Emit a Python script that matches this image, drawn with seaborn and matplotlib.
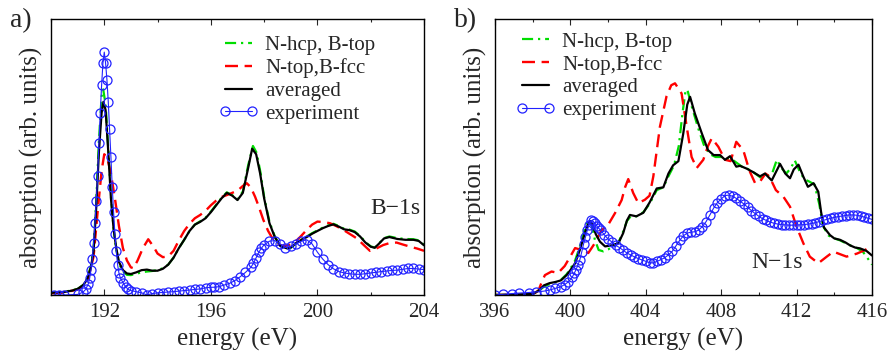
import numpy as np
import pandas as pd
import matplotlib
matplotlib.use("Agg")
import matplotlib.pyplot as plt
import seaborn as sns

# ---------------- panel a) B-1s ---------------- #
a_hcp_e = [190.0, 190.5, 191.0, 191.2, 191.35, 191.5, 191.6, 191.7, 191.8, 191.9, 191.96, 192.05,
           192.15, 192.25, 192.35, 192.45, 192.55, 192.7, 192.85, 193.0, 193.2, 193.4, 193.6, 193.8,
           194.0, 194.2, 194.4, 194.6, 194.8, 195.0, 195.2, 195.4, 195.6, 195.8, 196.0, 196.2, 196.4,
           196.6, 196.8, 197.0, 197.2, 197.4, 197.58, 197.72, 197.87, 198.0, 198.2, 198.4, 198.6,
           198.85, 199.0, 199.2, 199.4, 199.6, 199.8, 200.0, 200.2, 200.4, 200.6, 200.8, 201.0, 201.2,
           201.4, 201.6, 201.8, 202.0, 202.15, 202.3, 202.5, 202.7, 203.0, 203.3, 203.6, 203.8, 204.0]
a_hcp_y = [0.008, 0.011, 0.022, 0.036, 0.058, 0.105, 0.17, 0.34, 0.56, 0.72, 0.745, 0.69,
           0.53, 0.36, 0.24, 0.165, 0.115, 0.085, 0.073, 0.072, 0.077, 0.082, 0.085, 0.087,
           0.09, 0.097, 0.11, 0.136, 0.17, 0.2, 0.232, 0.255, 0.267, 0.28, 0.302, 0.327, 0.352,
           0.372, 0.362, 0.346, 0.375, 0.47, 0.54, 0.515, 0.44, 0.355, 0.265, 0.212, 0.178,
           0.168, 0.171, 0.187, 0.2, 0.212, 0.224, 0.234, 0.244, 0.252, 0.258, 0.25, 0.24, 0.237,
           0.23, 0.214, 0.192, 0.176, 0.172, 0.186, 0.206, 0.212, 0.206, 0.203, 0.202, 0.198, 0.182]

a_top_e = [190.0, 190.5, 191.0, 191.2, 191.4, 191.6, 191.75, 191.9, 192.0, 192.1, 192.25, 192.4,
           192.55, 192.7, 192.85, 193.0, 193.1, 193.25, 193.45, 193.65, 193.85, 194.0, 194.2, 194.4,
           194.6, 194.8, 195.0, 195.2, 195.4, 195.6, 195.8, 196.0, 196.2, 196.4, 196.6, 196.8, 197.0,
           197.2, 197.35, 197.5, 197.66, 197.8, 197.97, 198.15, 198.35, 198.55, 198.72, 198.9, 199.1,
           199.35, 199.6, 199.8, 200.0, 200.25, 200.47, 200.7, 200.97, 201.2, 201.48, 201.75, 201.97,
           202.2, 202.47, 202.7, 202.97, 203.2, 203.48, 203.75, 204.0]
a_top_y = [0.006, 0.009, 0.02, 0.032, 0.06, 0.14, 0.3, 0.45, 0.51, 0.5, 0.44, 0.35,
           0.25, 0.17, 0.125, 0.1, 0.097, 0.125, 0.17, 0.202, 0.175, 0.15, 0.137, 0.14,
           0.16, 0.198, 0.232, 0.258, 0.278, 0.29, 0.305, 0.325, 0.342, 0.355, 0.362, 0.37, 0.378,
           0.395, 0.405, 0.39, 0.356, 0.32, 0.272, 0.232, 0.199, 0.183, 0.177, 0.18, 0.187,
           0.21, 0.236, 0.255, 0.266, 0.264, 0.26, 0.25, 0.236, 0.222, 0.205, 0.18, 0.16,
           0.168, 0.181, 0.188, 0.19, 0.183, 0.175, 0.168, 0.16]

a_avg_e = [190.0, 190.5, 190.8, 191.0, 191.2, 191.35, 191.5, 191.6, 191.7, 191.8, 191.9, 191.97,
           192.05, 192.15, 192.25, 192.35, 192.45, 192.55, 192.7, 192.85, 193.0, 193.2, 193.4, 193.6,
           193.8, 194.0, 194.2, 194.4, 194.6, 194.8, 195.0, 195.2, 195.4, 195.6, 195.8, 196.0, 196.2,
           196.4, 196.6, 196.8, 197.0, 197.2, 197.4, 197.55, 197.7, 197.85, 198.0, 198.2, 198.4,
           198.6, 198.85, 199.0, 199.2, 199.4, 199.6, 199.8, 200.0, 200.2, 200.4, 200.6, 200.8, 201.0,
           201.2, 201.4, 201.6, 201.8, 202.0, 202.15, 202.3, 202.5, 202.7, 203.0, 203.3, 203.6, 203.8,
           204.0]
a_avg_y = [0.008, 0.011, 0.016, 0.022, 0.035, 0.055, 0.1, 0.16, 0.32, 0.52, 0.66, 0.7,
           0.67, 0.52, 0.35, 0.24, 0.17, 0.12, 0.09, 0.078, 0.076, 0.082, 0.09, 0.092,
           0.088, 0.088, 0.095, 0.11, 0.135, 0.17, 0.2, 0.232, 0.255, 0.265, 0.278, 0.3, 0.325,
           0.35, 0.37, 0.36, 0.344, 0.37, 0.46, 0.53, 0.51, 0.44, 0.35, 0.26, 0.21,
           0.178, 0.169, 0.172, 0.188, 0.2, 0.21, 0.222, 0.232, 0.242, 0.25, 0.256, 0.248, 0.238,
           0.235, 0.228, 0.212, 0.19, 0.175, 0.171, 0.185, 0.205, 0.21, 0.203, 0.2, 0.2, 0.196,
           0.18]

a_exp_e = [190.1, 190.3, 190.5, 191.0, 191.2, 191.3, 191.4, 191.45, 191.5, 191.55, 191.6, 191.65,
           191.7, 191.75, 191.8, 191.85, 191.9, 191.95, 192.0, 192.05, 192.1, 192.15, 192.2, 192.25,
           192.3, 192.35, 192.4, 192.45, 192.5, 192.55, 192.6, 192.7, 192.8, 192.9, 193.0, 193.2,
           193.4, 193.6, 193.8, 194.0, 194.2, 194.4, 194.6, 194.8, 195.0, 195.2, 195.4, 195.6, 195.8,
           196.0, 196.1, 196.3, 196.5, 196.7, 196.9, 197.1, 197.3, 197.5, 197.6, 197.7, 197.8, 197.9,
           198.0, 198.2, 198.4, 198.6, 198.8, 199.0, 199.2, 199.4, 199.6, 199.8, 200.0, 200.2, 200.4,
           200.6, 200.8, 201.0, 201.2, 201.4, 201.6, 201.8, 202.0, 202.2, 202.4, 202.6, 202.8, 203.0,
           203.2, 203.4, 203.6, 203.8, 204.0]
a_exp_y = [0.0, 0.0, 0.0, 0.002, 0.01, 0.02, 0.04, 0.06, 0.09, 0.13, 0.19, 0.26,
           0.34, 0.43, 0.55, 0.66, 0.76, 0.84, 0.88, 0.84, 0.78, 0.7, 0.6, 0.5,
           0.39, 0.3, 0.22, 0.16, 0.11, 0.08, 0.063, 0.045, 0.03, 0.02, 0.016, 0.012,
           0.008, 0.0, 0.005, 0.008, 0.009, 0.011, 0.012, 0.014, 0.016, 0.018, 0.02, 0.022, 0.026,
           0.028, 0.028, 0.03, 0.036, 0.042, 0.052, 0.066, 0.082, 0.1, 0.115, 0.135, 0.155, 0.17,
           0.182, 0.195, 0.197, 0.185, 0.172, 0.176, 0.185, 0.195, 0.2, 0.185, 0.155, 0.13, 0.11,
           0.095, 0.085, 0.08, 0.077, 0.075, 0.075, 0.077, 0.08, 0.082, 0.085, 0.087, 0.089, 0.09,
           0.093, 0.096, 0.096, 0.094, 0.092]

# ---------------- panel b) N-1s ---------------- #
b_hcp_e = [396.0, 397.0, 398.0, 398.3, 398.6, 398.9, 399.2, 399.5, 399.8, 400.0, 400.25, 400.5,
           400.77, 400.95, 401.1, 401.3, 401.5, 401.75, 402.0, 402.3, 402.55, 402.8, 403.0, 403.2,
           403.5, 403.87, 404.2, 404.58, 404.93, 405.2, 405.5, 405.75, 405.95, 406.1, 406.2, 406.45,
           406.8, 407.1, 407.4, 407.7, 408.0, 408.3, 408.6, 408.9, 409.2, 409.5, 409.8, 410.1, 410.4,
           410.7, 410.95, 411.2, 411.45, 411.7, 411.9, 412.15, 412.4, 412.7, 412.95, 413.2, 413.4,
           413.7, 414.0, 414.3, 414.6, 414.9, 415.2, 415.5, 415.8, 416.0]
b_hcp_y = [0.0, 0.001, 0.004, 0.014, 0.03, 0.04, 0.046, 0.055, 0.075, 0.095, 0.125, 0.175,
           0.24, 0.27, 0.262, 0.2, 0.163, 0.158, 0.165, 0.178, 0.19, 0.23, 0.268, 0.285,
           0.285, 0.3, 0.33, 0.38, 0.39, 0.43, 0.47, 0.54, 0.66, 0.735, 0.745, 0.68,
           0.6, 0.54, 0.51, 0.5, 0.5, 0.495, 0.49, 0.475, 0.46, 0.455, 0.44, 0.425, 0.43,
           0.44, 0.49, 0.46, 0.44, 0.46, 0.488, 0.45, 0.42, 0.41, 0.4, 0.33, 0.25,
           0.215, 0.205, 0.198, 0.188, 0.178, 0.17, 0.158, 0.13, 0.11]

b_top_e = [396.0, 397.5, 398.0, 398.3, 398.5, 398.65, 399.0, 399.35, 399.7, 400.0, 400.25, 400.6,
           400.95, 401.3, 401.66, 402.0, 402.37, 402.72, 402.9, 403.07, 403.33, 403.6, 403.95, 404.2,
           404.4, 404.75, 405.1, 405.35, 405.55, 405.9, 406.17, 406.43, 406.7, 407.05, 407.3, 407.5,
           407.85, 408.2, 408.5, 408.8, 409.17, 409.5, 409.8, 410.05, 410.35, 410.55, 410.9, 411.3,
           411.65, 412.0, 412.36, 412.7, 413.15, 413.6, 413.95, 414.3, 414.65, 415.2, 415.6, 416.0]
b_top_y = [0.0, 0.001, 0.003, 0.015, 0.05, 0.072, 0.085, 0.08, 0.105, 0.14, 0.17, 0.163,
           0.152, 0.188, 0.235, 0.254, 0.297, 0.344, 0.39, 0.42, 0.37, 0.333, 0.345, 0.36,
           0.43, 0.61, 0.72, 0.76, 0.767, 0.73, 0.61, 0.5, 0.46, 0.49, 0.54, 0.568,
           0.537, 0.49, 0.485, 0.555, 0.525, 0.45, 0.405, 0.41, 0.44, 0.43, 0.38, 0.356,
           0.32, 0.247, 0.187, 0.139, 0.115, 0.139, 0.157, 0.148, 0.139, 0.15, 0.162, 0.178]

b_avg_e = [396.0, 397.0, 398.0, 398.3, 398.6, 398.9, 399.2, 399.5, 399.8, 400.0, 400.25, 400.5,
           400.77, 400.95, 401.05, 401.2, 401.35, 401.57, 401.84, 402.2, 402.55, 402.8, 403.0, 403.16,
           403.5, 403.87, 404.2, 404.58, 404.93, 405.2, 405.45, 405.73, 405.99, 406.2, 406.35, 406.6,
           406.97, 407.3, 407.6, 407.94, 408.2, 408.47, 408.8, 409.0, 409.35, 409.7, 410.06, 410.32,
           410.68, 410.9, 411.12, 411.4, 411.65, 411.85, 412.1, 412.35, 412.6, 412.9, 413.15, 413.3,
           413.45, 413.77, 414.0, 414.3, 414.6, 414.83, 415.1, 415.36, 415.7, 416.0]
b_avg_y = [0.0, 0.001, 0.004, 0.015, 0.035, 0.043, 0.047, 0.053, 0.072, 0.09, 0.115, 0.163,
           0.224, 0.26, 0.268, 0.25, 0.22, 0.193, 0.176, 0.18, 0.188, 0.224, 0.27, 0.29,
           0.285, 0.298, 0.335, 0.386, 0.39, 0.44, 0.47, 0.485, 0.586, 0.69, 0.718, 0.658,
           0.586, 0.525, 0.507, 0.507, 0.49, 0.503, 0.465, 0.468, 0.458, 0.445, 0.43, 0.44,
           0.415, 0.445, 0.475, 0.44, 0.423, 0.455, 0.472, 0.43, 0.392, 0.405, 0.374, 0.3,
           0.245, 0.217, 0.205, 0.2, 0.19, 0.18, 0.172, 0.169, 0.16, 0.143]

b_exp_e = [396.0, 396.4, 396.9, 397.3, 397.8, 398.2, 398.6, 398.9, 399.2, 399.5, 399.7, 399.9,
           400.1, 400.2, 400.3, 400.4, 400.5, 400.6, 400.7, 400.8, 400.9, 401.0, 401.1, 401.2,
           401.3, 401.4, 401.5, 401.6, 401.8, 402.0, 402.2, 402.4, 402.6, 402.8, 403.0, 403.2,
           403.4, 403.6, 403.8, 404.0, 404.2, 404.4, 404.6, 404.8, 405.0, 405.2, 405.4, 405.6,
           405.8, 406.0, 406.2, 406.4, 406.6, 406.8, 407.0, 407.2, 407.4, 407.6, 407.8, 408.0,
           408.2, 408.4, 408.6, 408.8, 409.0, 409.2, 409.4, 409.6, 409.8, 410.0, 410.2, 410.4,
           410.6, 410.8, 411.0, 411.2, 411.4, 411.6, 411.8, 412.0, 412.2, 412.4, 412.6, 412.8,
           413.0, 413.2, 413.4, 413.6, 413.8, 414.0, 414.2, 414.4, 414.6, 414.8, 415.0, 415.2,
           415.4, 415.6, 415.8, 416.0]
b_exp_y = [0.0, 0.002, 0.005, 0.007, 0.009, 0.011, 0.014, 0.018, 0.024, 0.03, 0.038, 0.048,
           0.065, 0.078, 0.092, 0.108, 0.127, 0.155, 0.185, 0.21, 0.235, 0.255, 0.27, 0.268,
           0.26, 0.25, 0.242, 0.235, 0.218, 0.203, 0.192, 0.18, 0.172, 0.162, 0.152, 0.145,
           0.138, 0.132, 0.127, 0.122, 0.117, 0.116, 0.122, 0.128, 0.135, 0.145, 0.158, 0.178,
           0.198, 0.215, 0.224, 0.228, 0.229, 0.235, 0.248, 0.266, 0.29, 0.315, 0.335, 0.348,
           0.36, 0.362, 0.358, 0.35, 0.34, 0.33, 0.318, 0.306, 0.295, 0.285, 0.276, 0.27,
           0.264, 0.26, 0.257, 0.255, 0.254, 0.253, 0.253, 0.254, 0.254, 0.255, 0.257, 0.259,
           0.262, 0.266, 0.27, 0.274, 0.278, 0.281, 0.284, 0.286, 0.288, 0.29, 0.29, 0.289,
           0.286, 0.282, 0.278, 0.274]

labels = ["N-hcp, B-top", "N-top,B-fcc", "averaged", "experiment"]

sns.set_style("ticks")
plt.rcParams["font.family"] = ["Liberation Serif", "DejaVu Serif"]


def draw_panel(ax, hcp, top, avg, exp, xlim, xticks, letter, edge, edge_pos, leg_pos):
    sns.lineplot(x=hcp[0], y=hcp[1], ax=ax, color="#00dd00", lw=1.6, estimator=None,
                 linestyle=(0, (5, 2.2, 1, 2.2)), label=labels[0])
    sns.lineplot(x=top[0], y=top[1], ax=ax, color="#ff0000", lw=1.7, estimator=None,
                 linestyle=(0, (5.5, 2.8)), label=labels[1])
    sns.lineplot(x=avg[0], y=avg[1], ax=ax, color="black", lw=1.6, estimator=None,
                 label=labels[2])
    sns.lineplot(x=exp[0], y=exp[1], ax=ax, color="#2222ff", lw=0.8, estimator=None,
                 marker="o", markersize=6.5, markerfacecolor="none", markeredgecolor="#2222ff",
                 markeredgewidth=0.9, label=labels[3])

    ax.set_xlim(*xlim)
    ax.set_ylim(0, 1)
    ax.set_xticks(xticks)
    ax.set_xticks(np.arange(xlim[0], xlim[1] + 0.01, 2), minor=True)
    ax.set_yticks([])
    ax.tick_params(axis="x", which="major", direction="in", length=4.5, width=0.8,
                   top=True, labelsize=15, pad=6)
    ax.tick_params(axis="x", which="minor", direction="in", length=2.5, width=0.8, top=True)
    for s in ax.spines.values():
        s.set_linewidth(1.0)
        s.set_color("black")
    ax.set_xlabel("energy (eV)", fontsize=18, labelpad=4)
    ax.set_ylabel("absorption (arb. units)", fontsize=18, labelpad=6)
    ax.text(edge_pos[0], edge_pos[1], edge, transform=ax.transAxes, fontsize=17,
            ha="left", va="center")
    ax.text(-0.11, 0.995, letter, transform=ax.transAxes, fontsize=20, ha="left", va="center")
    ax.legend(loc="upper left", bbox_to_anchor=leg_pos, frameon=False, fontsize=15,
              handlelength=1.9, handletextpad=0.33, labelspacing=0.15, borderpad=0,
              borderaxespad=0, numpoints=2)


fig = plt.figure(figsize=(8.88, 3.54), dpi=100)
ax_a = fig.add_axes([0.0574, 0.1667, 0.4201, 0.7796])
ax_b = fig.add_axes([0.5574, 0.1667, 0.4246, 0.7796])

draw_panel(ax_a, (a_hcp_e, a_hcp_y), (a_top_e, a_top_y), (a_avg_e, a_avg_y), (a_exp_e, a_exp_y),
           (190, 204), [192, 196, 200, 204], "a)", "B\u22121s", (0.855, 0.315), (0.45, 0.94))
draw_panel(ax_b, (b_hcp_e, b_hcp_y), (b_top_e, b_top_y), (b_avg_e, b_avg_y), (b_exp_e, b_exp_y),
           (396, 416), [396, 400, 404, 408, 412, 416], "b)", "N\u22121s", (0.68, 0.116),
           (0.055, 0.953))

fig.savefig("out.png", dpi=100)
